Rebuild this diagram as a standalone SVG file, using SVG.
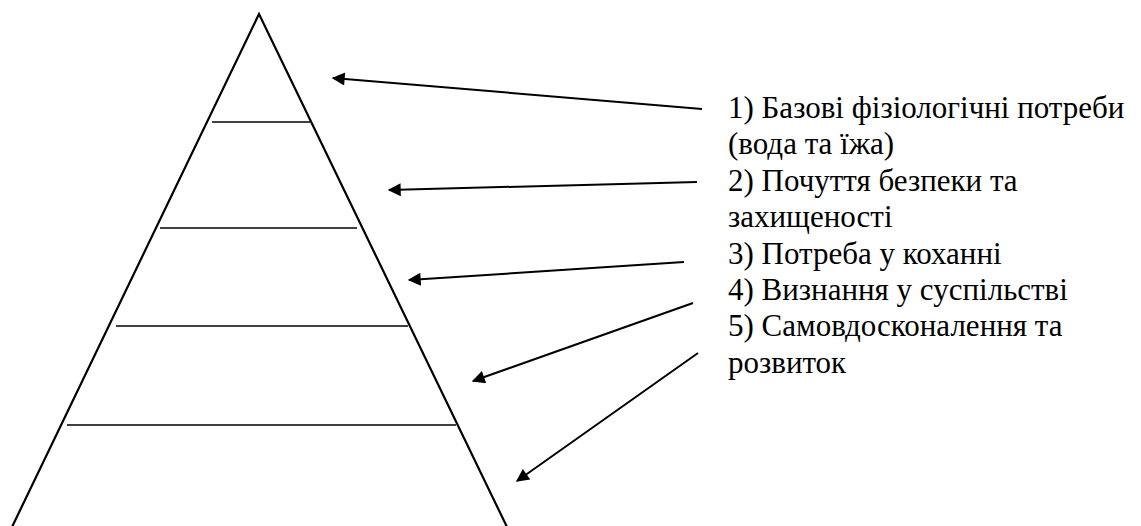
<svg xmlns="http://www.w3.org/2000/svg" width="1141" height="526" viewBox="0 0 1141 526">
<defs>
<marker id="ah" viewBox="0 0 10 10" refX="9" refY="5" markerWidth="8" markerHeight="6.5" markerUnits="strokeWidth" orient="auto">
<path d="M0,0 L10,5 L0,10 Z" fill="#000"/>
</marker>
</defs>
<rect width="1141" height="526" fill="#fff"/>
<g id="pyramid" stroke="#000" fill="none">
<path stroke-width="2.2" d="M12,527 L259,14 L507,527"/>
<line stroke-width="1.3" x1="212" y1="122" x2="310" y2="122"/>
<line stroke-width="1.3" x1="160" y1="228" x2="357" y2="228"/>
<line stroke-width="1.3" x1="116" y1="326" x2="408" y2="326"/>
<line stroke-width="1.3" x1="67" y1="425" x2="456" y2="425"/>
</g>
<g id="connectors" stroke="#000" stroke-width="2" fill="none">
<line marker-end="url(#ah)" x1="702" y1="109" x2="333" y2="78"/>
<line marker-end="url(#ah)" x1="697" y1="182" x2="389" y2="190"/>
<line marker-end="url(#ah)" x1="684" y1="262" x2="409" y2="280"/>
<line marker-end="url(#ah)" x1="693" y1="303" x2="473" y2="381"/>
<line marker-end="url(#ah)" x1="698" y1="353" x2="517" y2="481"/>
</g>
<g id="labels">
<text x="728" y="118" font-family="Times New Roman" font-size="31">1) Базові фізіологічні потреби</text>
<text x="728" y="154" font-family="Times New Roman" font-size="31">(вода та їжа)</text>
<text x="728" y="191" font-family="Times New Roman" font-size="31">2) Почуття безпеки та</text>
<text x="728" y="227" font-family="Times New Roman" font-size="31">захищеності</text>
<text x="728" y="264" font-family="Times New Roman" font-size="31">3) Потреба у коханні</text>
<text x="728" y="300" font-family="Times New Roman" font-size="31">4) Визнання у суспільстві</text>
<text x="728" y="336" font-family="Times New Roman" font-size="31">5) Самовдосконалення та</text>
<text x="728" y="373" font-family="Times New Roman" font-size="31">розвиток</text>
</g>
</svg>
